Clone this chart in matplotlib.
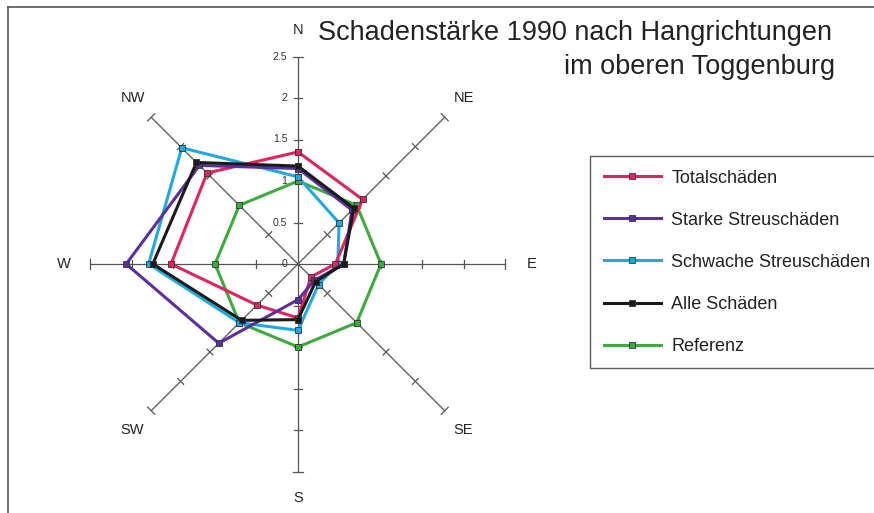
import numpy as np
import matplotlib
matplotlib.use('Agg')
from matplotlib import pyplot as plt
from matplotlib.lines import Line2D

plt.rcParams['font.family'] = ['Liberation Sans', 'DejaVu Sans']

# Hangrichtungen (im Uhrzeigersinn ab Nord)
directions = ['N', 'NE', 'E', 'SE', 'S', 'SW', 'W', 'NW']
r_ticks = [0, 0.5, 1, 1.5, 2, 2.5]
r_tick_labels = ['0', '0.5', '1', '1.5', '2', '2.5']

totalschaeden = [1.35, 1.10, 0.45, 0.22, 0.65, 0.70, 1.53, 1.55]
starke = [1.15, 0.92, 0.55, 0.28, 0.43, 1.35, 2.07, 1.68]
schwache = [1.05, 0.70, 0.48, 0.35, 0.80, 1.00, 1.80, 1.98]
alle = [1.18, 0.95, 0.55, 0.30, 0.67, 0.96, 1.75, 1.73]
referenz = [1.0, 1.0, 1.0, 1.0, 1.0, 1.0, 1.0, 1.0]

series = [
    ('Totalschäden', totalschaeden, '#e0245e', 3),
    ('Starke Streuschäden', starke, '#5b2f9c', 4),
    ('Schwache Streuschäden', schwache, '#1fa8e2', 2),
    ('Alle Schäden', alle, '#1a1a1a', 5),
    ('Referenz', referenz, '#3caa3c', 1),
]

W, H = 874, 513
fig = plt.figure(figsize=(W / 100, H / 100), dpi=100)
ax = fig.add_axes([0, 0, 1, 1])
scale = 83.0   # px per unit
cx, cy = 298, 264
ax.set_xlim(-cx / scale, (W - cx) / scale)
ax.set_ylim(-(H - cy) / scale, cy / scale)
ax.axis('off')

theta = np.deg2rad(np.arange(len(directions)) * 45)
rmax = r_ticks[-1]

# Speichen mit Teilstrichen
for t in theta:
    dx, dy = np.sin(t), np.cos(t)
    ax.plot([0, rmax * dx], [0, rmax * dy], color='#555555', lw=0.9, zorder=0)
    px, py = -dy, dx
    for r in r_ticks[1:]:
        h = 0.05 if r < rmax else 0.06
        ax.plot([r * dx - h * px, r * dx + h * px],
                [r * dy - h * py, r * dy + h * py],
                color='#555555', lw=0.9, zorder=0)

for t, name in zip(theta, directions):
    ax.text(2.82 * np.sin(t), 2.82 * np.cos(t), name, ha='center', va='center',
            fontsize=10.5, color='#222222')

for r, lab in zip(r_ticks, r_tick_labels):
    ax.text(-0.13, r, lab, ha='right', va='center', fontsize=7.5, color='#333333')

# Datenreihen
for name, vals, col, z in series:
    r = np.array(vals + vals[:1])
    t = np.append(theta, theta[0])
    ax.plot(r * np.sin(t), r * np.cos(t), color=col, lw=2.2, marker='s',
            markersize=4, markerfacecolor=col, markeredgecolor='#333333',
            markeredgewidth=0.6, label=name, zorder=z)

leg = ax.legend(loc='upper left', bbox_to_anchor=(590 / W, 1 - 156 / H),
                bbox_transform=fig.transFigure, fontsize=13, frameon=True,
                fancybox=False, edgecolor='#333333', handlelength=3.2,
                handletextpad=0.55, labelspacing=1.39, borderpad=0.75,
                borderaxespad=0, numpoints=1)
leg.get_frame().set_linewidth(1.0)
for txt in leg.get_texts():
    txt.set_color('#222222')

fig.text(318 / W, 1 - 33 / H, 'Schadenstärke 1990 nach Hangrichtungen',
         ha='left', va='center', fontsize=19.5, color='#222222')
fig.text(835 / W, 1 - 67 / H, 'im oberen Toggenburg',
         ha='right', va='center', fontsize=19.5, color='#222222')

# Rahmen (links und oben)
fig.add_artist(Line2D([8 / W, 8 / W], [0, 1 - 7 / H], color='#555555', lw=1.2,
                      transform=fig.transFigure))
fig.add_artist(Line2D([8 / W, 1], [1 - 7 / H, 1 - 7 / H], color='#555555', lw=1.2,
                      transform=fig.transFigure))

fig.savefig('out.png', dpi=100)
